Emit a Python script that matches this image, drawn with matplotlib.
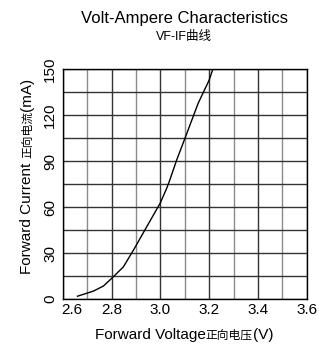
import matplotlib
matplotlib.use("Agg")
import matplotlib.pyplot as plt
import matplotlib.transforms as mtransforms
import numpy as np

# forward voltage (V) vs forward current (mA)
voltage = [2.66, 2.725, 2.766, 2.80, 2.848, 2.891, 2.943, 2.998, 3.025, 3.038,
           3.066, 3.10, 3.154, 3.199, 3.215]
current = [1.9, 5.2, 8.5, 13.5, 21, 32.4, 47, 62.3, 72, 77.5,
           90.5, 104.7, 127.5, 142.6, 150]

x_ticks = [2.6, 2.8, 3.0, 3.2, 3.4, 3.6]
y_ticks = [0, 30, 60, 90, 120, 150]

plt.rcParams['font.family'] = ['Liberation Sans', 'Noto Sans CJK SC']

fig = plt.figure(figsize=(3.19, 3.47), dpi=100)
ax = fig.add_axes([0.197, 0.138, 0.765, 0.663])

ax.plot(voltage, current, color='black', linewidth=1.0)

ax.set_xlim(2.6, 3.6)
ax.set_ylim(0, 150)
ax.set_xticks(x_ticks)
ax.set_xticklabels([f"{v:.1f}" for v in x_ticks], fontsize=11)
ax.set_xticks(np.arange(2.7, 3.6, 0.2), minor=True)
ax.set_yticks(y_ticks)
ax.set_yticklabels([str(v) for v in y_ticks], fontsize=11, rotation=90, va='center')
ax.set_yticks(np.arange(15, 150, 30), minor=True)
ax.tick_params(which='both', length=0, pad=3)
ax.tick_params(axis='y', pad=4)
ax.grid(True, which='major', color='#333333', linewidth=1.0)
ax.grid(True, which='minor', axis='y', color='#333333', linewidth=1.0)
ax.grid(True, which='minor', axis='x', color='#8a8a8a', linewidth=1.0)
for s in ax.spines.values():
    s.set_color('black')
    s.set_linewidth(1.0)

# nudge the first x label inward like the original
first = ax.get_xticklabels()[0]
first.set_transform(first.get_transform() + mtransforms.ScaledTranslation(9 / 100, 0, fig.dpi_scale_trans))

fig.text(0.578, 1 - 18 / 347, "Volt-Ampere Characteristics", ha='center', va='center', fontsize=12)
fig.text(0.578, 1 - 37 / 347, "VF-IF曲线", ha='center', va='center', fontsize=9)

# axis labels built from pieces so the Chinese part can be smaller
renderer = fig.canvas.get_renderer()
x_parts = [("Forward Voltage", 11), ("正向电压", 8.5), ("(V)", 11)]
y_parts = [("Forward Current ", 11), ("正向电流", 8.5), ("(mA)", 11)]

texts = []
for s, size in x_parts:
    texts.append(fig.text(0, 0, s, fontsize=size, ha='left', va='baseline'))
widths = [t.get_window_extent(renderer).width for t in texts]
pos = 184 - sum(widths) / 2
for t, w in zip(texts, widths):
    t.set_position((pos / 319, 1 - 339 / 347))
    pos += w

texts = []
for s, size in y_parts:
    texts.append(fig.text(0, 0, s, fontsize=size, ha='left', va='baseline',
                          rotation=90, rotation_mode='anchor'))
heights = [t.get_window_extent(renderer).height for t in texts]
pos = 347 - 176 - sum(heights) / 2
for t, h in zip(texts, heights):
    t.set_position((31 / 319, pos / 347))
    pos += h

plt.savefig("out.png", dpi=100)
plt.close()
